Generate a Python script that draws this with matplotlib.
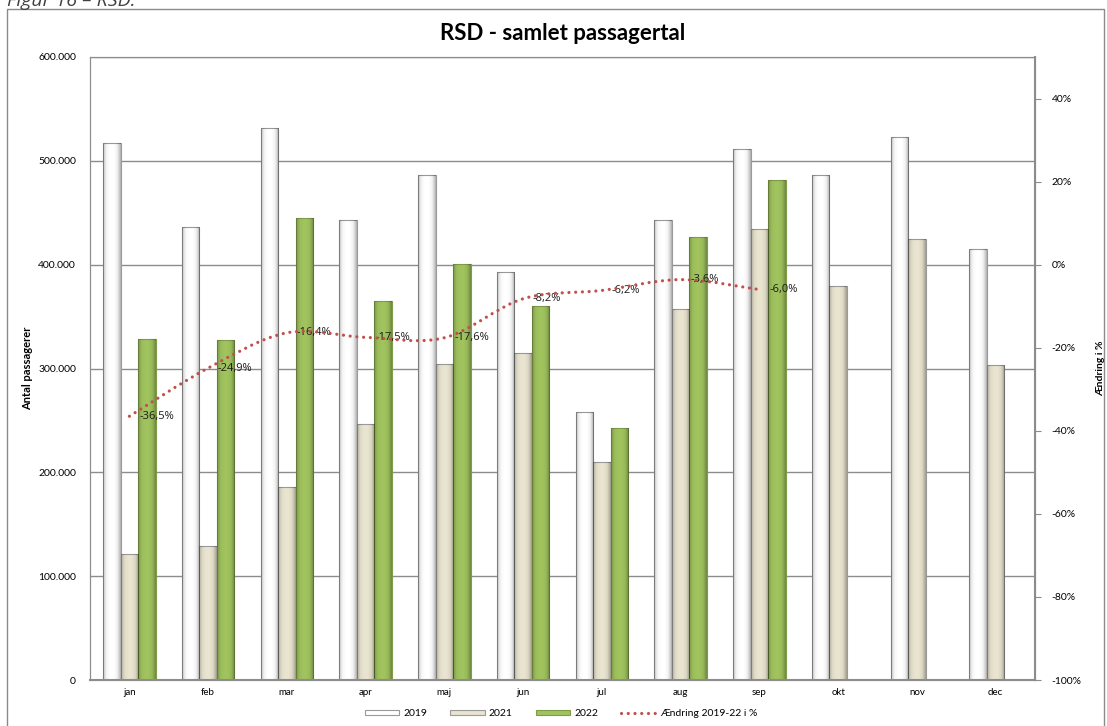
import matplotlib
matplotlib.use("Agg")
import matplotlib.pyplot as plt
import numpy as np
from matplotlib.path import Path
from matplotlib.patches import PathPatch, Patch, Rectangle
from matplotlib.lines import Line2D
from matplotlib.ticker import FuncFormatter, MultipleLocator
from matplotlib.colors import LinearSegmentedColormap

plt.rcParams["font.family"] = ["Lato", "DejaVu Sans"]

months = ["jan", "feb", "mar", "apr", "maj", "jun", "jul", "aug", "sep", "okt", "nov", "dec"]
pax_2019 = [517500, 436000, 532000, 442800, 486000, 393000, 258400, 442800, 511700, 486000, 523000, 415400]
pax_2021 = [121000, 129000, 186000, 246500, 304000, 315400, 210000, 357200, 434500, 379700, 424800, 303000]
pax_2022 = [328300, 327000, 445000, 365300, 400700, 360400, 242400, 426700, 481700]
change_pct = [-36.5, -24.9, -16.4, -17.5, -17.6, -8.2, -6.2, -3.6, -6.0]
change_labels = ["-36,5%", "-24,9%", "-16,4%", "-17,5%", "-17,6%", "-8,2%", "-6,2%", "-3,6%", "-6,0%"]

W, H = 1107, 726
fig = plt.figure(figsize=(W / 100, H / 100), dpi=100)

# outer chart frame and caption
fig.patches.append(Rectangle((7 / W, -0.01), (1104 - 7) / W, 1 - 9 / H + 0.01,
                             transform=fig.transFigure, fill=False,
                             edgecolor="#8a8a8a", linewidth=1.0))
fig.text(7 / W, 1 - 6 / H, "Figur 16 \u2013 RSD:", fontsize=14, style="italic",
         color="#404040", ha="left", va="baseline", family=["Open Sans", "DejaVu Sans"])

ax = fig.add_axes([90 / W, 1 - 680 / H, (1035 - 90) / W, (680 - 57) / H])
ax2 = ax.twinx()

x = np.arange(len(months))
bw = 0.222
grey_edge = "#9a9a9a"
bars_19 = ax.bar(x - bw, pax_2019, width=bw, color="#ffffff", edgecolor=grey_edge, linewidth=0.8, zorder=2)
bars_21 = ax.bar(x, pax_2021, width=bw, color="#e9e4cf", edgecolor=grey_edge, linewidth=0.8, zorder=2)
bars_22 = ax.bar(x[:len(pax_2022)] + bw, pax_2022, width=bw, color="#a0c35e", edgecolor="#7f9c48",
                 linewidth=0.8, zorder=2)

# cylinder-like shading across each bar
shade = LinearSegmentedColormap.from_list(
    "shade", [(0, 0, 0, 0.22), (0, 0, 0, 0.04), (0, 0, 0, 0.0), (0, 0, 0, 0.0),
              (0, 0, 0, 0.06), (0, 0, 0, 0.30)])
grad = np.linspace(0, 1, 64).reshape(1, -1)
for container in (bars_19, bars_21, bars_22):
    for rect in container:
        x0 = rect.get_x()
        im = ax.imshow(grad, extent=[x0, x0 + rect.get_width(), 0, rect.get_height()],
                       aspect="auto", cmap=shade, zorder=2.1, interpolation="bilinear")
        im.set_clip_path(rect)

ax.set_xlim(-0.5, len(months) - 0.5)
ax.set_ylim(0, 600000)
ax.yaxis.set_major_locator(MultipleLocator(100000))
ax.yaxis.set_major_formatter(FuncFormatter(lambda v, p: "0" if v == 0 else f"{v:,.0f}".replace(",", ".")))
ax.grid(axis="y", color="#8c8c8c", linewidth=1.0)
ax.set_axisbelow(True)
ax.set_xticks(x)
ax.set_xticklabels(months)
ax.tick_params(axis="x", length=0, labelsize=7, pad=6, colors="#000000")
ax.tick_params(axis="y", length=0, labelsize=7.5, pad=10)
ax.set_ylabel("Antal passagerer", fontsize=8, fontweight="bold")
ax.yaxis.set_label_coords(-(90 - 33) / (1035 - 90), 0.5)

for side in ["left", "top", "bottom", "right"]:
    ax.spines[side].set_color("#8c8c8c")
    ax2.spines[side].set_color("#8c8c8c")
ax2.spines["right"].set_linewidth(1.5)
ax.spines["bottom"].set_linewidth(1.5)

ax2.set_ylim(-100, 50)
ax2.set_yticks(np.arange(-100, 41, 20))
ax2.yaxis.set_major_formatter(FuncFormatter(lambda v, p: f"{v:.0f}%"))
ax2.tick_params(axis="y", length=4, width=0.8, color="#8c8c8c", labelsize=7.5, pad=8)
ax2.set_ylabel("\u00c6ndring i %", fontsize=7.5, fontweight="bold", rotation=90)
ax2.yaxis.set_label_coords(1 + (1096 - 1035) / (1035 - 90), 0.5)

# smoothed change line (Bezier segments through the monthly points)
px = x[:len(change_pct)].astype(float)
py = np.array(change_pct, dtype=float)
pts = np.column_stack([px, py])
verts = [pts[0]]
codes = [Path.MOVETO]
n = len(pts)
for i in range(n - 1):
    p_prev = pts[i - 1] if i > 0 else pts[i]
    p_next2 = pts[i + 2] if i + 2 < n else pts[i + 1]
    c1 = pts[i] + (pts[i + 1] - p_prev) / 6.0
    c2 = pts[i + 1] - (p_next2 - pts[i]) / 6.0
    verts += [c1, c2, pts[i + 1]]
    codes += [Path.CURVE4] * 3
line = PathPatch(Path(verts, codes), fill=False, edgecolor="#c0504d", linewidth=2.3,
                 linestyle=(0, (0.01, 2.1)), capstyle="round", zorder=5)
ax2.add_patch(line)

for xi, yi, lab in zip(px, py, change_labels):
    ax2.annotate(lab, (xi, yi), xytext=(7, 0), textcoords="offset points",
                 ha="left", va="center", fontsize=8, color="#1a1a1a",
                 family=["Open Sans", "DejaVu Sans"], zorder=4)

fig.text(563 / W, 1 - 33 / H, "RSD - samlet passagertal", fontsize=16, fontweight="bold",
         ha="center", va="center")

handles = [
    Patch(facecolor="#ffffff", edgecolor=grey_edge, linewidth=0.8),
    Patch(facecolor="#e9e4cf", edgecolor=grey_edge, linewidth=0.8),
    Patch(facecolor="#a0c35e", edgecolor="#7f9c48", linewidth=0.8),
    Line2D([0], [0], color="#c0504d", linewidth=2.3, linestyle=(0, (0.01, 2.1)),
           dash_capstyle="round"),
]
fig.legend(handles, ["2019", "2021", "2022", "\u00c6ndring 2019-22 i %"],
           loc="center", bbox_to_anchor=(561 / W, 1 - 714 / H), ncol=4, frameon=False,
           fontsize=7.5, handlelength=3.3, handleheight=0.35, columnspacing=2.2,
           handletextpad=0.4)

fig.savefig("out.png", dpi=100)
